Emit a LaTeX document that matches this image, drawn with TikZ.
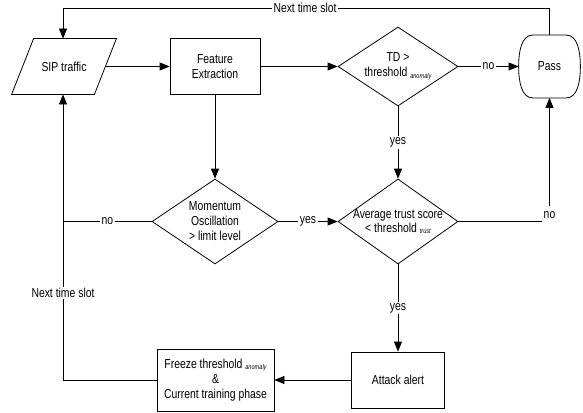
\documentclass[tikz,border=0pt]{standalone}
\usepackage{fontspec}
\setmainfont{Liberation Sans}[FakeStretch=0.8]
\usetikzlibrary{shapes.geometric,arrows.meta,calc}
\newcommand{\subsc}[1]{{\fontsize{7}{8}\selectfont\itshape\raisebox{-1.5pt}{#1}}}
\begin{document}
\begin{tikzpicture}[x=1pt,y=-1pt, font=\fontsize{13}{15}\selectfont,
  line width=0.8pt,
  box/.style={draw, rectangle, inner sep=0pt, align=center},
  dia/.style={draw, diamond, inner sep=0pt},
  flow/.style={draw, -{Triangle[length=10pt,width=8pt]}},
  lbl/.style={fill=white, inner sep=1.5pt},
]
\useasboundingbox (0,0) rectangle (583,412);

% nodes
\node[inner sep=0pt, minimum width=82pt, minimum height=55pt] (sip) at (64,66.5) {SIP traffic};
\draw ($(sip.north west)+(11,0)$) -- ($(sip.north east)+(11,0)$) -- ($(sip.south east)+(-11,0)$) -- ($(sip.south west)+(-11,0)$) -- cycle;

\node[box, minimum width=90pt, minimum height=56pt] (feat) at (215,66.5) {Feature\\Extraction};
\node[dia, minimum width=120pt, minimum height=79pt,
  label={[align=center]center:{TD >\\threshold \subsc{anomaly}}}] (td) at (398,66.5) {};
\node[inner sep=0pt, minimum width=61pt, minimum height=62pt] (pass) at (549.5,66.5) {Pass};
\draw ($(pass.north)+(-17,0)$) -- ($(pass.north)+(17,0)$)
  .. controls ($(pass.north east)+(-3,0)$) and ($(pass.east)+(0,-15)$) .. (pass.east)
  .. controls ($(pass.east)+(0,15)$) and ($(pass.south east)+(-3,0)$) .. ($(pass.south)+(17,0)$)
  -- ($(pass.south)+(-17,0)$)
  .. controls ($(pass.south west)+(3,0)$) and ($(pass.west)+(0,15)$) .. (pass.west)
  .. controls ($(pass.west)+(0,-15)$) and ($(pass.north west)+(3,0)$) .. cycle;

\node[dia, minimum width=126pt, minimum height=85pt,
  label={[align=center]center:{Momentum\\Oscillation\\> limit level}}] (mom) at (215,221.5) {};
\node[dia, minimum width=120pt, minimum height=85pt,
  label={[align=center,font=\fontsize{13}{14}\selectfont]center:{Average trust score\\< threshold \subsc{trust}}}] (avg) at (398,221.5) {};

\node[box, minimum width=117pt, minimum height=62pt] (freeze) at (215.5,380) {Freeze threshold \subsc{anomaly}\\\&\\Current training phase};
\node[box, minimum width=93pt, minimum height=56pt] (attack) at (398,380) {Attack alert};

\coordinate (top) at (63,8);

% connectors
\draw[flow] (pass.north) |- (top) -- (top |- sip.north);
\node[lbl] (nts1) at (305,8) {Next time slot};

\draw[flow] (sip.east) -- (feat.west);
\draw[flow] (feat.east) -- (td.west);
\draw[flow] (td.east) -- node[lbl]{no} (pass.west);
\draw[flow] (td.south) -- node[lbl]{yes} (avg.north);
\draw[flow] (feat.south) -- (mom.north);
\draw[flow] (mom.east) -- node[lbl]{yes} (avg.west);
\draw[flow] (avg.east) -| (pass.south);
\node[lbl, minimum height=18pt] (no2) at (549.5,215) {no};
\draw (mom.west) -- node[lbl]{no} (mom.west -| top);
\draw[flow] (freeze.west) -| (top |- sip.south);
\node[lbl] (nts2) at (63,293) {Next time slot};
\draw[flow] (avg.south) -- node[lbl]{yes} (attack.north);
\draw[flow] (attack.west) -- (freeze.east);
\end{tikzpicture}
\end{document}
